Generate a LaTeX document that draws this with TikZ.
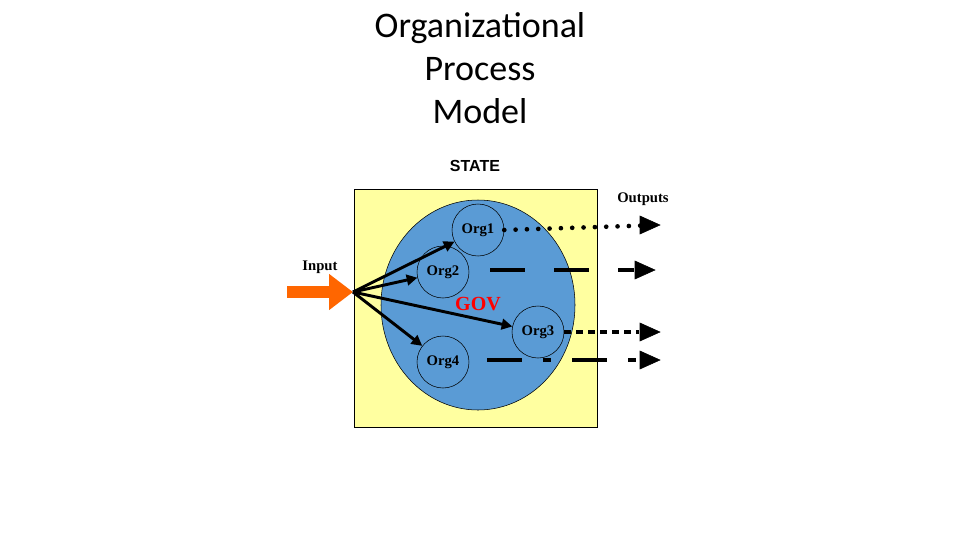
\documentclass[tikz,border=0pt]{standalone}
\usepackage{fontspec}
\setmainfont{Liberation Serif}
\newfontfamily\carlfont{Carlito}
\newfontfamily\arifont{Liberation Sans}
\usetikzlibrary{arrows.meta,shapes.geometric}
\definecolor{yel}{RGB}{255,255,160}
\definecolor{blu}{RGB}{90,155,213}
\definecolor{orng}{RGB}{255,102,0}
\begin{document}
\begin{tikzpicture}[x=0.75pt,y=-0.75pt,
 orgc/.style={circle,draw,minimum size=52*0.75pt,inner sep=0pt,font=\bfseries\fontsize{11}{11}\selectfont},
 inarr/.style={line width=2.2pt,-{Triangle[length=8pt,width=8pt]}},
 outln/.style={line width=3.5pt}]
\useasboundingbox (0,0) rectangle (960,540);
\node[font=\carlfont\fontsize{27}{32}\selectfont,align=center] (t) at (480,68) {Organizational\\Process\\Model};
\node[font=\arifont\bfseries\fontsize{12}{12}\selectfont] (st) at (475,166) {STATE};
\node[draw,fill=yel,minimum width=243*0.75pt,minimum height=238*0.75pt,inner sep=0pt] (box) at (475.5,308) {};
\node[draw,fill=blu,ellipse,minimum width=194*0.75pt,minimum height=210*0.75pt,inner sep=0pt] (e) at (478,305) {};
\node[orgc] (o1) at (478,230) {Org1};
\node[orgc] (o2) at (443,272) {Org2};
\node[orgc] (o3) at (538,332) {Org3};
\node[orgc] (o4) at (443,362) {Org4};
\node[text=red,font=\bfseries\fontsize{15}{15}\selectfont] (gov) at (478,304) {GOV};
\node[font=\bfseries\fontsize{11}{11}\selectfont] (inp) at (320,267) {Input};
\node[font=\bfseries\fontsize{11}{11}\selectfont] (outp) at (643,199) {Outputs};
\coordinate (h) at (353,292);
\coordinate (s) at (287,292);
\draw[orng,line width=9pt,-{Triangle[length=18pt,width=26pt]}] (s) -- (h);
\draw[inarr] (h) -- (o1);
\draw[inarr] (h) -- (o2);
\draw[inarr] (h) -- (o3);
\draw[inarr] (h) -- (o4);
\coordinate (e1) at (660,225); \coordinate (e2) at (655,270);
\coordinate (e3) at (660,332); \coordinate (e4) at (660,360);
\coordinate (b2) at (490,270); \coordinate (b4) at (487,360);
\draw[outln,line cap=round,dash pattern=on 0pt off 8.5pt,shorten >=14pt] (o1.east) -- (e1);
\draw[fill] (e1) -- ++(-20,-9) -- ++(0,18) -- cycle;
\draw[outln,dash pattern=on 26pt off 22pt,shorten >=16pt] (b2) -- (e2);
\draw[fill] (e2) -- ++(-20,-9) -- ++(0,18) -- cycle;
\draw[outln,dash pattern=on 5pt off 4pt,shorten >=16pt] (o3.east) -- (e3);
\draw[fill] (e3) -- ++(-20,-9) -- ++(0,18) -- cycle;
\draw[outln,dash pattern=on 26pt off 16pt on 6pt off 16pt,shorten >=16pt] (b4) -- (e4);
\draw[fill] (e4) -- ++(-20,-9) -- ++(0,18) -- cycle;
\end{tikzpicture}
\end{document}
